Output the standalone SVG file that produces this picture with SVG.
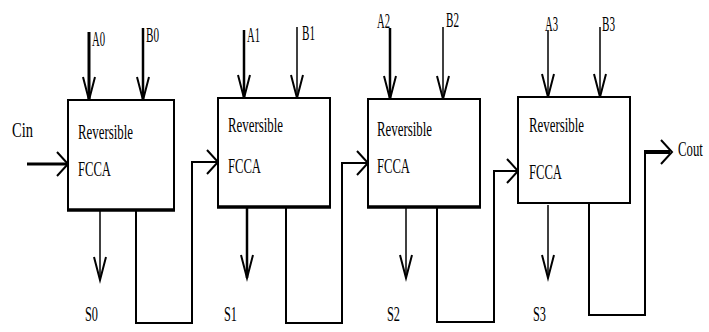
<svg xmlns="http://www.w3.org/2000/svg" width="709" height="332" viewBox="0 0 709 332">
<style>
text{font-family:"Liberation Serif","DejaVu Serif",serif;font-size:22px;fill:#000}
.box{fill:#fff;stroke:#000;stroke-width:2}
.bot{stroke:#000;stroke-width:3.5;fill:none}
.w{fill:none;stroke:#000;stroke-linejoin:miter}
.ah{fill:none;stroke:#000;stroke-width:2}
</style>
<defs>
<polyline id="vd" points="-6,-23 0,0 6,-23"/>
<polyline id="vr" points="-11,-12 0,0 -11,12"/>
</defs>
<rect width="709" height="332" fill="#fff"/>
<g id="connectors">
<path class="w" stroke-width="3" d="M89,32V100"/><use href="#vd" class="ah" stroke-width="2.5" x="89" y="100"/>
<path class="w" stroke-width="2.5" d="M143,28V100"/><use href="#vd" class="ah" x="143" y="100"/>
<path class="w" stroke-width="2.5" d="M244,30V98"/><use href="#vd" class="ah" x="244" y="98"/>
<path class="w" stroke-width="1.5" d="M297,27V98"/><use href="#vd" class="ah" stroke-width="1.5" x="297" y="98"/>
<path class="w" stroke-width="2.5" d="M390,28V99"/><use href="#vd" class="ah" x="390" y="99"/>
<path class="w" stroke-width="1.5" d="M443,27V99"/><use href="#vd" class="ah" stroke-width="1.5" x="443" y="99"/>
<path class="w" stroke-width="1.5" d="M548,30V97"/><use href="#vd" class="ah" stroke-width="1.5" x="548" y="97"/>
<path class="w" stroke-width="1.5" d="M600,27V97"/><use href="#vd" class="ah" stroke-width="1.5" x="600" y="97"/>
<path class="w" stroke-width="1.5" d="M100,210V280"/><use href="#vd" class="ah" stroke-width="1.5" x="100" y="280"/>
<path class="w" stroke-width="2.5" d="M247,207V278"/><use href="#vd" class="ah" stroke-width="2.5" x="247" y="278"/>
<path class="w" stroke-width="1.5" d="M406,207V278"/><use href="#vd" class="ah" stroke-width="1.5" x="406" y="278"/>
<path class="w" stroke-width="1.5" d="M548,205V278"/><use href="#vd" class="ah" stroke-width="1.5" x="548" y="278"/>
<path class="w" stroke-width="3" d="M27,164H68"/><use href="#vr" class="ah" stroke-width="2.5" x="68" y="164"/>
<path class="w" stroke-width="2" d="M136,210V323H192V162H218"/><use href="#vr" class="ah" stroke-width="2.5" x="218" y="162"/>
<path class="w" stroke-width="2" d="M286,207V323H342V163H368"/><use href="#vr" class="ah" stroke-width="2.5" x="368" y="163"/>
<path class="w" stroke-width="2" d="M437,207V322H494V171H518"/><use href="#vr" class="ah" stroke-width="2.5" x="518" y="171"/>
<path class="w" stroke-width="2" d="M589,203V315H645V152H668"/>
<path class="w" stroke-width="4" d="M644,152H670"/><use href="#vr" class="ah" stroke-width="3" x="672" y="152"/>
</g>
<g id="fcca0">
<rect class="box" x="68" y="100" width="106" height="110"/><path class="bot" d="M67,210H175"/>
<text x="78" y="139" textLength="55" lengthAdjust="spacingAndGlyphs">Reversible</text>
<text x="78" y="176" textLength="33" lengthAdjust="spacingAndGlyphs">FCCA</text>
</g>
<g id="fcca1">
<rect class="box" x="218" y="98" width="112" height="109"/><path class="bot" d="M217,207H331"/>
<text x="228" y="132" textLength="55" lengthAdjust="spacingAndGlyphs">Reversible</text>
<text x="228" y="173" textLength="33" lengthAdjust="spacingAndGlyphs">FCCA</text>
</g>
<g id="fcca2">
<rect class="box" x="368" y="99" width="112" height="108"/><path class="bot" d="M367,207H481"/>
<text x="377" y="136" textLength="55" lengthAdjust="spacingAndGlyphs">Reversible</text>
<text x="377" y="173" textLength="33" lengthAdjust="spacingAndGlyphs">FCCA</text>
</g>
<g id="fcca3">
<rect class="box" x="518" y="97" width="112" height="106"/>
<text x="529" y="132" textLength="55" lengthAdjust="spacingAndGlyphs">Reversible</text>
<text x="529" y="179" textLength="33" lengthAdjust="spacingAndGlyphs">FCCA</text>
</g>
<g id="labels">
<text x="12" y="137" textLength="21" lengthAdjust="spacingAndGlyphs">Cin</text>
<text transform="translate(678,156) scale(0.58,1)">Cout</text>
<text x="92" y="46" textLength="13" lengthAdjust="spacingAndGlyphs">A0</text>
<text x="146" y="42" textLength="13" lengthAdjust="spacingAndGlyphs">B0</text>
<text x="247" y="42" textLength="13" lengthAdjust="spacingAndGlyphs">A1</text>
<text x="302" y="40" textLength="13" lengthAdjust="spacingAndGlyphs">B1</text>
<text x="377" y="28" textLength="13" lengthAdjust="spacingAndGlyphs">A2</text>
<text x="446" y="27" textLength="13" lengthAdjust="spacingAndGlyphs">B2</text>
<text x="545" y="31" textLength="13" lengthAdjust="spacingAndGlyphs">A3</text>
<text x="602" y="31" textLength="13" lengthAdjust="spacingAndGlyphs">B3</text>
<text x="85" y="321" textLength="13" lengthAdjust="spacingAndGlyphs">S0</text>
<text x="224" y="321" textLength="13" lengthAdjust="spacingAndGlyphs">S1</text>
<text x="387" y="321" textLength="13" lengthAdjust="spacingAndGlyphs">S2</text>
<text x="533" y="321" textLength="13" lengthAdjust="spacingAndGlyphs">S3</text>
</g>
</svg>
